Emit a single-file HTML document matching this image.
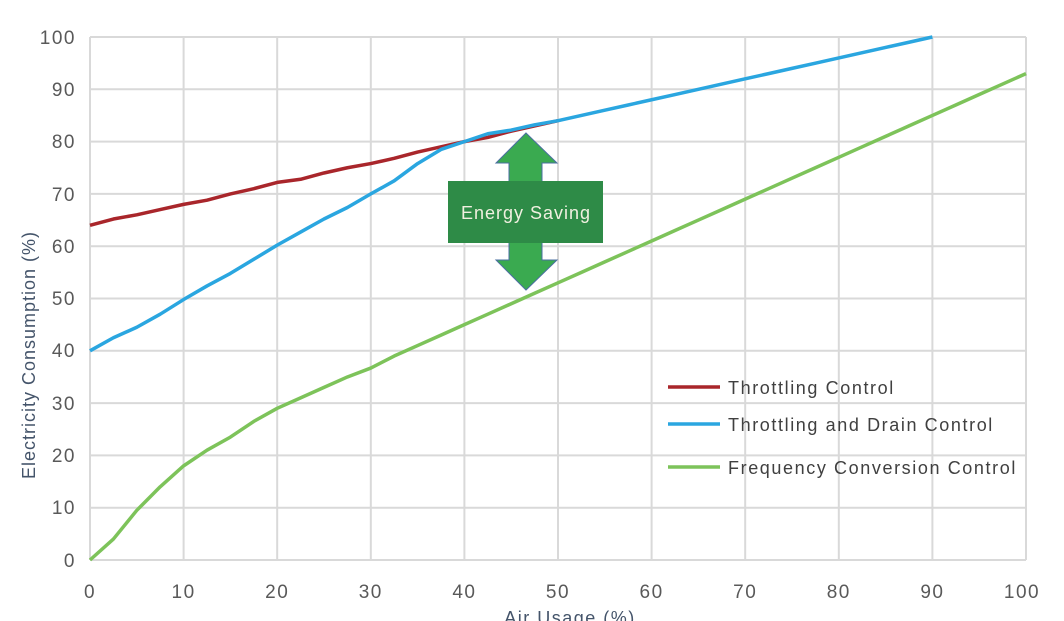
<!DOCTYPE html>
<html><head><style>body{margin:0;background:#fff}svg{display:block}</style></head><body>
<svg width="1064" height="621" xmlns="http://www.w3.org/2000/svg" font-family="Liberation Sans, sans-serif">
<g stroke="#d9d9d9" stroke-width="2">
<line x1="90" y1="37" x2="1026" y2="37"/><line x1="90" y1="89.3" x2="1026" y2="89.3"/><line x1="90" y1="141.6" x2="1026" y2="141.6"/><line x1="90" y1="193.9" x2="1026" y2="193.9"/><line x1="90" y1="246.2" x2="1026" y2="246.2"/><line x1="90" y1="298.5" x2="1026" y2="298.5"/><line x1="90" y1="350.8" x2="1026" y2="350.8"/><line x1="90" y1="403.1" x2="1026" y2="403.1"/><line x1="90" y1="455.4" x2="1026" y2="455.4"/><line x1="90" y1="507.7" x2="1026" y2="507.7"/><line x1="90" y1="560" x2="1026" y2="560"/>
<line x1="90" y1="37" x2="90" y2="560"/><line x1="183.6" y1="37" x2="183.6" y2="560"/><line x1="277.2" y1="37" x2="277.2" y2="560"/><line x1="370.8" y1="37" x2="370.8" y2="560"/><line x1="464.4" y1="37" x2="464.4" y2="560"/><line x1="558" y1="37" x2="558" y2="560"/><line x1="651.6" y1="37" x2="651.6" y2="560"/><line x1="745.2" y1="37" x2="745.2" y2="560"/><line x1="838.8" y1="37" x2="838.8" y2="560"/><line x1="932.4" y1="37" x2="932.4" y2="560"/><line x1="1026" y1="37" x2="1026" y2="560"/>
</g>
<g font-size="19" fill="#595959" text-anchor="end" letter-spacing="1.5">
<text x="76" y="44">100</text><text x="76" y="96">90</text><text x="76" y="148">80</text><text x="76" y="201">70</text><text x="76" y="253">60</text><text x="76" y="305">50</text><text x="76" y="357">40</text><text x="76" y="410">30</text><text x="76" y="462">20</text><text x="76" y="514">10</text><text x="76" y="567">0</text>
</g>
<g font-size="19" fill="#595959" text-anchor="middle" letter-spacing="1.5">
<text x="90" y="598">0</text><text x="183.6" y="598">10</text><text x="277.2" y="598">20</text><text x="370.8" y="598">30</text><text x="464.4" y="598">40</text><text x="558" y="598">50</text><text x="651.6" y="598">60</text><text x="745.2" y="598">70</text><text x="838.8" y="598">80</text><text x="932.4" y="598">90</text><text x="1022" y="598">100</text>
<text x="570" y="624" font-size="18" fill="#44546a">Air Usage (%)</text>
<text transform="translate(35,355) rotate(-90)" font-size="18" fill="#44546a" letter-spacing="1">Electricity Consumption (%)</text>
</g>
<g transform="translate(90,560) scale(9.36,-5.23)" fill="none" stroke-width="3.5" stroke-linejoin="round">
<polyline vector-effect="non-scaling-stroke" stroke="#7dc35a" points="0,0 2.5,4 5,9.5 7.5,14 10,18 12.5,21 15,23.5 17.5,26.5 20,29 22.5,31 25,33 27.5,35 30,36.7 32.5,39 35,41 37.5,43 40,45 42.5,47 45,49 47.5,51 50,53 52.5,55 55,57 57.5,59 60,61 62.5,63 65,65 67.5,67 70,69 72.5,71 75,73 77.5,75 80,77 82.5,79 85,81 87.5,83 90,85 92.5,87 95,89 97.5,91 100,93"/>
<polyline vector-effect="non-scaling-stroke" stroke="#a9262b" points="0,64 2.5,65.2 5,66 7.5,67 10,68 12.5,68.8 15,70 17.5,71 20,72.2 22.5,72.8 25,74 27.5,75 30,75.8 32.5,76.8 35,78 37.5,79 40,80 42.5,80.8 45,82 47.5,83 50,84"/>
<polyline vector-effect="non-scaling-stroke" stroke="#2aa6e0" points="0,40 2.5,42.5 5,44.5 7.5,47 10,49.8 12.5,52.4 15,54.8 17.5,57.5 20,60.2 22.5,62.7 25,65.2 27.5,67.4 30,70 32.5,72.5 35,75.8 37.5,78.5 40,80 42.5,81.5 45,82.2 47.5,83.2 50,84 52.5,85 55,86 57.5,87 60,88 62.5,89 65,90 67.5,91 70,92 72.5,93 75,94 77.5,95 80,96 82.5,97 85,98 87.5,99 90,100"/>
</g>
<polygon points="526,133 557,163 542,163 542,260 557,260 526,290 496,260 509,260 509,163 496,163" fill="#3aaa50" stroke="#4a6fa0" stroke-width="1"/>
<rect x="448" y="181" width="155" height="62" fill="#2e8b47"/>
<text x="526" y="219" font-size="18" fill="#f0f0e0" text-anchor="middle" letter-spacing="1">Energy Saving</text>
<g stroke-width="3.5"><line x1="668" y1="387" x2="720" y2="387" stroke="#a9262b"/><line x1="668" y1="424" x2="720" y2="424" stroke="#2aa6e0"/><line x1="668" y1="467" x2="720" y2="467" stroke="#7dc35a"/></g>
<g font-size="18" fill="#404040" letter-spacing="1.6"><text x="728" y="394">Throttling Control</text><text x="728" y="431">Throttling and Drain Control</text><text x="728" y="474">Frequency Conversion Control</text></g>
</svg>
</body></html>
